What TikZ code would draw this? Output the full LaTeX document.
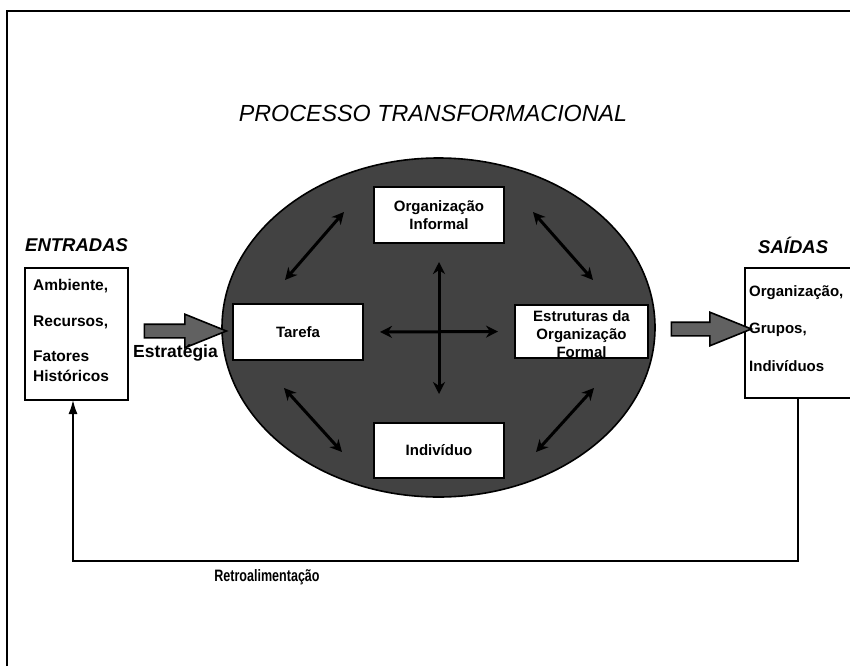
\documentclass[tikz,border=0pt]{standalone}
\usepackage{fontspec}
\setmainfont{Liberation Sans}
\usetikzlibrary{shapes.arrows,shapes.geometric,arrows.meta,calc}

\begin{document}
\begin{tikzpicture}[x=1pt,y=-1pt,
  frame/.style={line width=1.6pt},
  box/.style={draw=black, line width=2pt, fill=white, inner sep=0pt},
  boxtext/.style={font=\bfseries\fontsize{15}{18}\selectfont, align=center, inner sep=0pt},
  sidetext/.style={font=\bfseries\fontsize{15.5}{20}\selectfont, align=left, inner sep=0pt, anchor=north west},
  heading/.style={font=\bfseries\itshape\fontsize{18.5}{22}\selectfont, inner sep=0pt},
  blockarrow/.style={single arrow, draw=black, line width=1.6pt, fill=black!62,
    minimum height=82pt, single arrow head extend=10pt, inner sep=6pt,
    single arrow tip angle=44},
  inarrow/.style={line width=3pt, black, {Stealth[length=12pt,width=12pt]}-{Stealth[length=12pt,width=12pt]}},
  fb/.style={line width=1.5pt, -{Latex[length=14pt,width=9pt]}}
]
\useasboundingbox (0,0) rectangle (850,666);
\fill[white] (0,0) rectangle (850,666);

% page frame (left and top edges)
\draw[frame] (7,666) -- (7,11) -- (850,11);

% title
\node[font=\itshape\fontsize{23.3}{26}\selectfont, inner sep=0pt] (title) at (433,113) {PROCESSO TRANSFORMACIONAL};

% section headings
\node[heading, anchor=west] (hin) at (25,245) {ENTRADAS};
\node[heading, anchor=west] (hout) at (758,245) {SAÍDAS};

% input box
\node[box, minimum width=103, minimum height=132] (entr) at (76.5,334) {};
\node[sidetext] (entrtxt) at (33,279) {Ambiente,\\[16pt]Recursos,\\[15pt]Fatores\\Históricos};

% output box (runs past the right edge)
\node[box, minimum width=115, minimum height=130] (said) at (802.5,333) {};
\node[sidetext, font=\bfseries\fontsize{15}{18}\selectfont] (saidtxt) at (749,285) {Organização,\\[19pt]Grupos,\\[20pt]Indivíduos};

% transformation process
\node[ellipse, draw=black, line width=1.6pt, fill=black!74, minimum width=433, minimum height=339, inner sep=0pt] (proc) at (438.5,327.5) {};

\node[box, minimum width=130, minimum height=56] (orginf) at (439,215) {};
\node[boxtext] at (orginf.center) {Organização\\Informal};
\node[box, minimum width=130, minimum height=56] (tarefa) at (298,332) {};
\node[boxtext] at (tarefa.center) {Tarefa};
\node[box, minimum width=133, minimum height=53] (estr) at (581.5,331.5) {};
\node[boxtext] at ($(estr.center)+(0,3)$) {Estruturas da\\Organização\\Formal};
\node[box, minimum width=130, minimum height=55] (indiv) at (439,450.5) {};
\node[boxtext] at (indiv.center) {Indivíduo};

% relations among the components
\draw[inarrow, shorten <=18pt, shorten >=28pt] (orginf.south) -- (indiv.north);
\draw[inarrow, shorten <=16pt, shorten >=16pt] (tarefa.east) -- (estr.west);
\coordinate (ula) at (285,280);
\coordinate (ulb) at (344,212);
\coordinate (ura) at (533,212);
\coordinate (urb) at (593,280);
\coordinate (lla) at (284,388);
\coordinate (llb) at (342,452);
\coordinate (lra) at (536,452);
\coordinate (lrb) at (594,388);
\draw[inarrow] (ula) -- (ulb);
\draw[inarrow] (ura) -- (urb);
\draw[inarrow] (lla) -- (llb);
\draw[inarrow] (lra) -- (lrb);

% inputs and outputs
\node[blockarrow] (ain) at (177,331) {};
\node[font=\bfseries\fontsize{17.5}{20}\selectfont, inner sep=0pt] (estrat) at (175.5,353) {Estratégia};
\node[blockarrow, minimum height=80pt] (aout) at (703,329) {};

% feedback loop
\coordinate (fbR) at (798,398);
\coordinate (fbL) at (73,400);
\draw[fb] (fbR) -- (798,561) -- (73,561) -- (fbL);
\node[font=\bfseries\fontsize{16.5}{19}\selectfont, inner sep=0pt] (retro) at (267,577) {\scalebox{0.76}[1]{Retroalimentação}};
\end{tikzpicture}
\end{document}
